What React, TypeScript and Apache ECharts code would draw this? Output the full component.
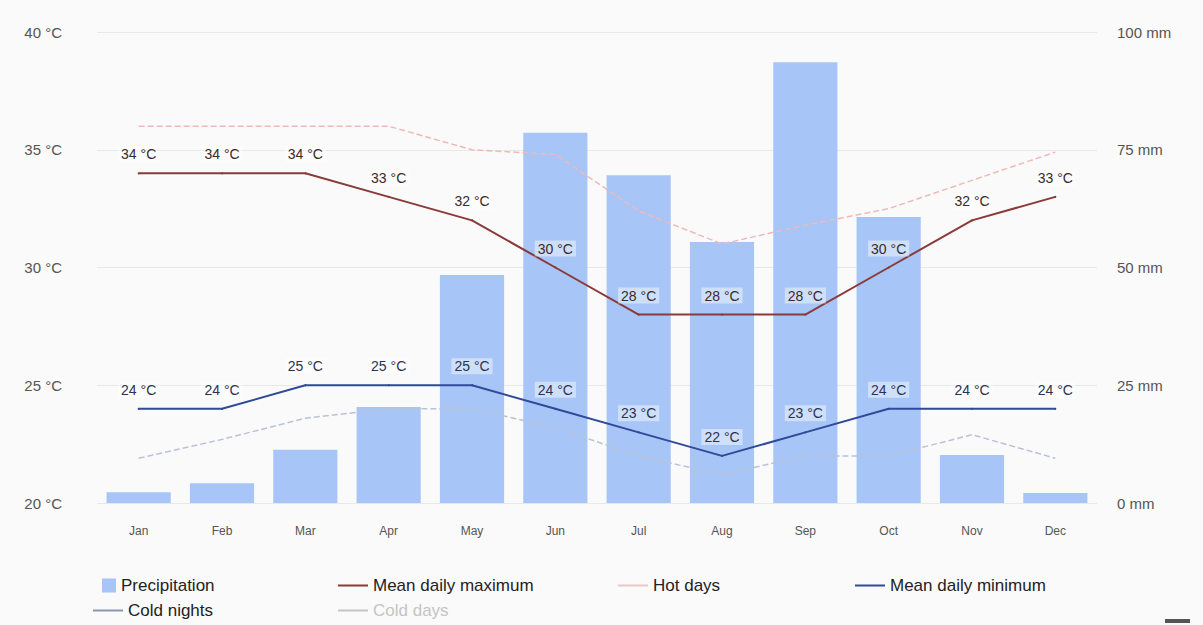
import React, { useEffect, useRef } from "react";
import * as echarts from "echarts";

const months = ["Jan", "Feb", "Mar", "Apr", "May", "Jun", "Jul", "Aug", "Sep", "Oct", "Nov", "Dec"];
const precipitation = [2.3, 4.2, 11.3, 20.4, 48.4, 78.6, 69.6, 55.4, 93.6, 60.7, 10.2, 2.1];
const meanMax = [34, 34, 34, 33, 32, 30, 28, 28, 28, 30, 32, 33];
const hotDays = [36, 36, 36, 36, 35, 34.8, 32.4, 31, 31.8, 32.5, 33.7, 34.9];
const meanMin = [24, 24, 25, 25, 25, 24, 23, 22, 23, 24, 24, 24];
const coldNights = [21.9, 22.7, 23.6, 24, 24, 23.2, 22, 21.2, 22, 22, 22.9, 21.9];
const coldDays = [30, 30, 30, 29, 28, 27, 26, 26, 26, 27, 28, 29];

const tempTicks = { min: 20, max: 40, interval: 5 };
const rainTicks = { min: 0, max: 100, interval: 25 };

export default function App() {
  const ref = useRef<HTMLDivElement>(null);
  useEffect(() => {
    if (!ref.current) return;
    const chart = echarts.init(ref.current, undefined, { renderer: "svg" });
    const labelStyle = (color: string) => ({
      show: true,
      position: "top",
      distance: 10,
      formatter: (p: any) => `${p.value} °C`,
      fontSize: 14,
      color,
      fontFamily: "Arial, sans-serif",
      backgroundColor: "rgba(255,255,255,0.45)",
      padding: [1, 3],
    });
    const legendText = { fontSize: 17, color: "#222", fontFamily: "Arial, sans-serif" };
    const mkLegend = (name: string, left: number, top: number, h: number) => ({
      data: [name],
      left,
      top,
      icon: "rect",
      itemWidth: h > 5 ? 14 : 30,
      itemHeight: h,
      itemGap: 0,
      textStyle: legendText,
      inactiveColor: "#c4c4c4",
      selected: { "Cold days": false },
    });
    chart.setOption({
      animation: false,
      backgroundColor: "#fafafa",
      textStyle: { fontFamily: "Arial, sans-serif" },
      grid: { left: 97, right: 106, top: 32, bottom: 122 },
      legend: [
        mkLegend("Precipitation", 97, 572, 14),
        mkLegend("Mean daily maximum", 333, 572, 2),
        mkLegend("Hot days", 613, 572, 2),
        mkLegend("Mean daily minimum", 850, 572, 2),
        mkLegend("Cold nights", 88, 597, 2),
        mkLegend("Cold days", 333, 597, 2),
      ],
      graphic: [
        { type: "rect", shape: { x: 1165, y: 619, width: 25, height: 4 }, style: { fill: "#555" } },
      ],
      xAxis: {
        type: "category",
        data: months,
        axisLine: { show: false },
        axisTick: { show: false },
        axisLabel: { color: "#555", fontSize: 12, margin: 22 },
      },
      yAxis: [
        {
          type: "value",
          ...tempTicks,
          position: "left",
          axisLabel: { formatter: "{value} °C", color: "#555", fontSize: 15, margin: 35 },
          splitLine: { lineStyle: { color: "#e8e8e8" } },
          axisLine: { show: false },
          axisTick: { show: false },
        },
        {
          type: "value",
          ...rainTicks,
          position: "right",
          axisLabel: { formatter: "{value} mm", color: "#555", fontSize: 15, margin: 20 },
          splitLine: { show: false },
          axisLine: { show: false },
          axisTick: { show: false },
        },
      ],
      series: [
        {
          name: "Precipitation",
          type: "bar",
          yAxisIndex: 1,
          data: precipitation,
          barWidth: "77%",
          itemStyle: { color: "#a7c5f6" },
          z: 1,
        },
        {
          name: "Hot days",
          type: "line",
          data: hotDays,
          symbol: "none",
          lineStyle: { color: "#efb9b9", width: 1.5, type: "dashed" },
          itemStyle: { color: "#efc4c4" },
          z: 3,
        },
        {
          name: "Mean daily maximum",
          type: "line",
          data: meanMax,
          symbol: "circle",
          symbolSize: 2,
          lineStyle: { color: "#8a3a3a", width: 2 },
          itemStyle: { color: "#8a3a3a" },
          label: labelStyle("#3a2a2a"),
          z: 4,
        },
        {
          name: "Cold nights",
          type: "line",
          data: coldNights,
          symbol: "none",
          lineStyle: { color: "#b9c3d6", width: 1.5, type: "dashed" },
          itemStyle: { color: "#8a98b4" },
          z: 3,
        },
        {
          name: "Mean daily minimum",
          type: "line",
          data: meanMin,
          symbol: "circle",
          symbolSize: 2,
          lineStyle: { color: "#2f4a9a", width: 2 },
          itemStyle: { color: "#2f4a9a" },
          label: labelStyle("#2a3350"),
          z: 4,
        },
        {
          name: "Cold days",
          type: "line",
          data: coldDays,
          symbol: "none",
          lineStyle: { color: "#999", width: 1.5 },
          itemStyle: { color: "#999" },
        },
      ],
    });
    return () => chart.dispose();
  }, []);
  return (
    <div
      ref={ref}
      style={{ position: "fixed", left: 0, top: 0, width: 1203, height: 625 }}
    />
  );
}
